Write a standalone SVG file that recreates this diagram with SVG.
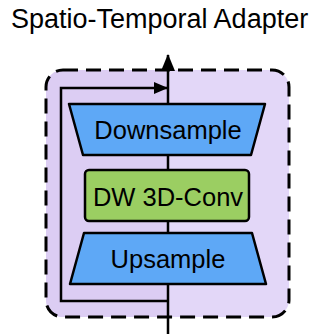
<svg xmlns="http://www.w3.org/2000/svg" width="326" height="334" viewBox="0 0 326 334">
  <defs>
    <marker id="head" viewBox="0 0 14 12" refX="13" refY="6" markerWidth="14" markerHeight="12" markerUnits="userSpaceOnUse" orient="auto">
      <path d="M0,0 L14,6 L0,12 Z" fill="#000"/>
    </marker>
    <marker id="headOut" viewBox="0 0 17 14" refX="16" refY="7" markerWidth="17" markerHeight="14" markerUnits="userSpaceOnUse" orient="auto">
      <path d="M0,0 L17,7 L0,14 Z" fill="#000"/>
    </marker>
    <clipPath id="clipLeft"><rect x="0" y="0" width="168" height="334"/></clipPath>
  </defs>
  <style>
    text { font-family: "Liberation Sans", Arial, sans-serif; fill: #000; }
    .title { font-size: 27px; }
    .label { font-size: 25.5px; text-anchor: middle; }
    .block { stroke: #000; stroke-width: 2.5; stroke-linejoin: round; }
    .wire { fill: none; stroke: #000; stroke-width: 2.5; }
  </style>

  <rect width="326" height="334" fill="#fff"/>

  <text class="title" x="11" y="28">Spatio-Temporal Adapter</text>

  <!-- adapter container -->
  <g id="adapter">
    <rect x="46" y="70" width="243" height="247" rx="17" fill="#e3d7f8"/>
    <rect x="46" y="70" width="243" height="247" rx="17" fill="#dccdf3" clip-path="url(#clipLeft)"/>
    <rect x="46" y="70" width="243" height="247" rx="17" fill="none" stroke="#000" stroke-width="3" stroke-dasharray="15 8"/>
  </g>

  <!-- connectors -->
  <g id="connectors">
    <line class="wire" x1="168" y1="334" x2="168" y2="55" marker-end="url(#headOut)"/>
    <polyline class="wire" points="168,301 61,301 61,88 167,88" marker-end="url(#head)"/>
  </g>

  <g id="downsample">
    <polygon class="block" points="69,104 265,104 251,155 83,155" fill="#5ea8f6"/>
    <text class="label" x="168" y="138.5">Downsample</text>
  </g>

  <g id="dwconv">
    <rect class="block" x="85" y="170" width="164" height="51" rx="4" fill="#9bce62"/>
    <text class="label" x="168" y="205.5">DW 3D-Conv</text>
  </g>

  <g id="upsample">
    <polygon class="block" points="84,233 252,233 266,284 70,284" fill="#5ea8f6"/>
    <text class="label" x="168" y="267.5">Upsample</text>
  </g>
</svg>
